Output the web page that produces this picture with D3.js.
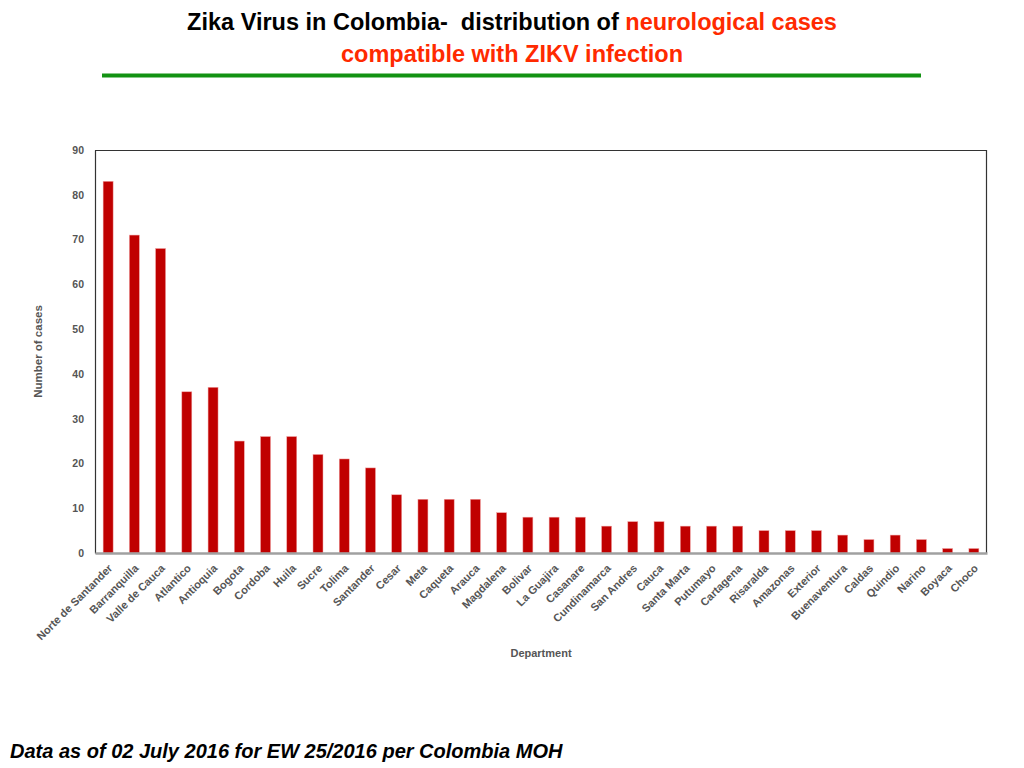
<!DOCTYPE html>
<html>
<head>
<meta charset="utf-8">
<script src="https://cdn.jsdelivr.net/npm/d3@7"></script>
<style>
  body { margin: 0; background: #fff; }
  svg { font-family: 'Liberation Sans', Arial, sans-serif; }
</style>
</head>
<body>
<div id="chart"></div>
<script>
const departments = [
  'Norte de Santander', 'Barranquilla', 'Valle de Cauca', 'Atlantico', 'Antioquia',
  'Bogota', 'Cordoba', 'Huila', 'Sucre', 'Tolima', 'Santander', 'Cesar', 'Meta',
  'Caqueta', 'Arauca', 'Magdalena', 'Bolivar', 'La Guajira', 'Casanare',
  'Cundinamarca', 'San Andres', 'Cauca', 'Santa Marta', 'Putumayo', 'Cartagena',
  'Risaralda', 'Amazonas', 'Exterior', 'Buenaventura', 'Caldas', 'Quindio',
  'Narino', 'Boyaca', 'Choco'
]
const cases = [
  83, 71, 68, 36, 37, 25, 26, 26, 22, 21, 19, 13, 12, 12, 12, 9, 8, 8, 8,
  6, 7, 7, 6, 6, 6, 5, 5, 5, 4, 3, 4, 3, 1, 1
]
const yTicks = [0, 10, 20, 30, 40, 50, 60, 70, 80, 90]

const width = 1024
const height = 768
const margin = { top: 150, right: 37, bottom: 215, left: 95 }
const innerW = width - margin.left - margin.right
const innerH = height - margin.top - margin.bottom

const data = departments.map((name, i) => ({ name, value: cases[i] }))

const svg = d3
  .select('#chart')
  .append('svg')
  .attr('width', width)
  .attr('height', height)

// Title
const title = svg
  .append('text')
  .attr('x', 512)
  .attr('y', 30)
  .attr('text-anchor', 'middle')
  .attr('font-size', 23.5)
  .attr('font-weight', 'bold')
title.append('tspan').attr('fill', '#000').text('Zika Virus in Colombia\u2011\u00a0 distribution of ')
title.append('tspan').attr('fill', '#ff2a00').text('neurological cases')
svg
  .append('text')
  .attr('x', 512)
  .attr('y', 62)
  .attr('text-anchor', 'middle')
  .attr('font-size', 23.5)
  .attr('font-weight', 'bold')
  .attr('fill', '#ff2a00')
  .text('compatible with ZIKV infection')

svg
  .append('line')
  .attr('x1', 102)
  .attr('x2', 921)
  .attr('y1', 75.5)
  .attr('y2', 75.5)
  .attr('stroke', '#139213')
  .attr('stroke-width', 4)

const g = svg
  .append('g')
  .attr('transform', `translate(${margin.left},${margin.top})`)

const xScale = d3
  .scaleBand()
  .domain(departments)
  .range([0, innerW])
  .paddingInner(0.62)
  .paddingOuter(0.31)
const yScale = d3.scaleLinear().domain([0, 90]).range([innerH, 0])

// Frame (top and right)
g.append('path')
  .attr('d', `M0,0.5H${innerW - 0.5}V${innerH}`)
  .attr('fill', 'none')
  .attr('stroke', '#333')
  .attr('stroke-width', 1.2)

// Bars
g.selectAll('.bar')
  .data(data)
  .join('rect')
  .attr('class', 'bar')
  .attr('x', d => xScale(d.name))
  .attr('width', xScale.bandwidth())
  .attr('y', d => yScale(d.value))
  .attr('height', d => innerH - yScale(d.value))
  .attr('fill', '#c00000')
  .attr('stroke', '#f0a0a0')
  .attr('stroke-width', 0.5)

// Y axis
const yAxis = d3.axisLeft(yScale).tickValues(yTicks).tickSize(0).tickPadding(11)
g.append('g')
  .attr('class', 'yaxis')
  .call(yAxis)
  .call(s => s.select('.domain').attr('stroke', '#333').attr('stroke-width', 1.2))
  .call(s =>
    s.selectAll('text')
      .attr('font-size', 10.5)
      .attr('font-weight', 'bold')
      .attr('fill', '#555')
      .attr('font-family', 'Liberation Sans, Arial, sans-serif')
  )

// X axis
const xAxis = d3.axisBottom(xScale).tickSize(0).tickPadding(0)
g.append('g')
  .attr('class', 'xaxis')
  .attr('transform', `translate(0,${innerH})`)
  .call(xAxis)
  .call(s => s.select('.domain').attr('stroke', '#a0a0a0').attr('stroke-width', 2.5))
  .call(s =>
    s.selectAll('text')
      .attr('font-size', 11)
      .attr('font-weight', 'bold')
      .attr('fill', '#555')
      .attr('font-family', 'Liberation Sans, Arial, sans-serif')
      .attr('text-anchor', 'end')
      .attr('dy', 0)
      .attr('transform', 'translate(5,16) rotate(-45)')
  )

// Axis titles
svg
  .append('text')
  .attr('transform', `translate(42,${margin.top + innerH / 2}) rotate(-90)`)
  .attr('text-anchor', 'middle')
  .attr('font-size', 11.5)
  .attr('font-weight', 'bold')
  .attr('fill', '#555')
  .text('Number of cases')

svg
  .append('text')
  .attr('x', 541)
  .attr('y', 657)
  .attr('text-anchor', 'middle')
  .attr('font-size', 11)
  .attr('font-weight', 'bold')
  .attr('fill', '#555')
  .text('Department')

// Footnote
svg
  .append('text')
  .attr('x', 10)
  .attr('y', 758)
  .attr('font-size', 20)
  .attr('font-weight', 'bold')
  .attr('font-style', 'italic')
  .attr('fill', '#000')
  .text('Data as of 02 July 2016 for EW 25/2016 per Colombia MOH')
</script>
</body>
</html>
